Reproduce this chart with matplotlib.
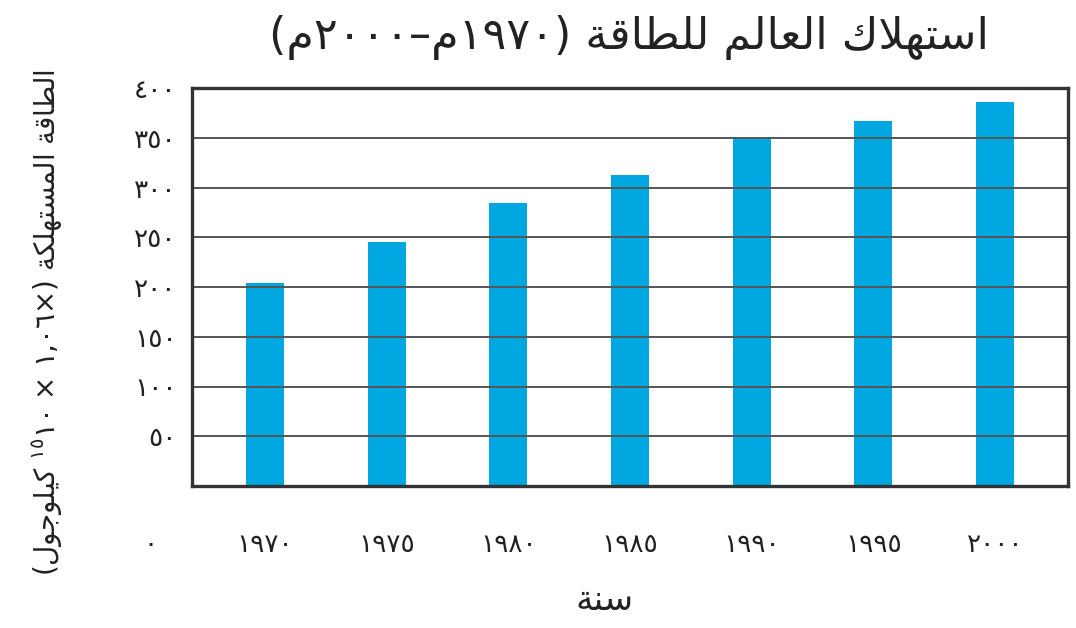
import re
import matplotlib
matplotlib.use("Agg")
import matplotlib.pyplot as plt

# ---------------- data ----------------
years = ["١٩٧٠", "١٩٧٥", "١٩٨٠", "١٩٨٥", "١٩٩٠", "١٩٩٥", "٢٠٠٠"]
energy = [204, 245, 284, 313, 351, 367, 386]
ytick_values = [50, 100, 150, 200, 250, 300, 350, 400]
ytick_labels = ["٥٠", "١٠٠", "١٥٠", "٢٠٠", "٢٥٠", "٣٠٠", "٣٥٠", "٤٠٠"]
zero_label = "٠"
title_text = "استهلاك العالم للطاقة (١٩٧٠م–٢٠٠٠م)"
xlabel_text = "سنة"
ylabel_before = "الطاقة المستهلكة (×١,٠٦ × ١٠"
ylabel_sup = "١٥"
ylabel_after = " كيلوجول)"

# ---------------- minimal Arabic shaping + bidi ----------------
# (isolated, final, initial, medial)
FORMS = {
    "\u0621": ("\uFE80", None, None, None),
    "\u0622": ("\uFE81", "\uFE82", None, None),
    "\u0623": ("\uFE83", "\uFE84", None, None),
    "\u0625": ("\uFE87", "\uFE88", None, None),
    "\u0627": ("\uFE8D", "\uFE8E", None, None),
    "\u0628": ("\uFE8F", "\uFE90", "\uFE91", "\uFE92"),
    "\u0629": ("\uFE93", "\uFE94", None, None),
    "\u062A": ("\uFE95", "\uFE96", "\uFE97", "\uFE98"),
    "\u062B": ("\uFE99", "\uFE9A", "\uFE9B", "\uFE9C"),
    "\u062C": ("\uFE9D", "\uFE9E", "\uFE9F", "\uFEA0"),
    "\u062D": ("\uFEA1", "\uFEA2", "\uFEA3", "\uFEA4"),
    "\u062E": ("\uFEA5", "\uFEA6", "\uFEA7", "\uFEA8"),
    "\u062F": ("\uFEA9", "\uFEAA", None, None),
    "\u0630": ("\uFEAB", "\uFEAC", None, None),
    "\u0631": ("\uFEAD", "\uFEAE", None, None),
    "\u0632": ("\uFEAF", "\uFEB0", None, None),
    "\u0633": ("\uFEB1", "\uFEB2", "\uFEB3", "\uFEB4"),
    "\u0634": ("\uFEB5", "\uFEB6", "\uFEB7", "\uFEB8"),
    "\u0635": ("\uFEB9", "\uFEBA", "\uFEBB", "\uFEBC"),
    "\u0636": ("\uFEBD", "\uFEBE", "\uFEBF", "\uFEC0"),
    "\u0637": ("\uFEC1", "\uFEC2", "\uFEC3", "\uFEC4"),
    "\u0638": ("\uFEC5", "\uFEC6", "\uFEC7", "\uFEC8"),
    "\u0639": ("\uFEC9", "\uFECA", "\uFECB", "\uFECC"),
    "\u063A": ("\uFECD", "\uFECE", "\uFECF", "\uFED0"),
    "\u0641": ("\uFED1", "\uFED2", "\uFED3", "\uFED4"),
    "\u0642": ("\uFED5", "\uFED6", "\uFED7", "\uFED8"),
    "\u0643": ("\uFED9", "\uFEDA", "\uFEDB", "\uFEDC"),
    "\u0644": ("\uFEDD", "\uFEDE", "\uFEDF", "\uFEE0"),
    "\u0645": ("\uFEE1", "\uFEE2", "\uFEE3", "\uFEE4"),
    "\u0646": ("\uFEE5", "\uFEE6", "\uFEE7", "\uFEE8"),
    "\u0647": ("\uFEE9", "\uFEEA", "\uFEEB", "\uFEEC"),
    "\u0648": ("\uFEED", "\uFEEE", None, None),
    "\u0649": ("\uFEEF", "\uFEF0", None, None),
    "\u064A": ("\uFEF1", "\uFEF2", "\uFEF3", "\uFEF4"),
}
LAM_ALEF = {"\u0622": ("\uFEF5", "\uFEF6"), "\u0623": ("\uFEF7", "\uFEF8"),
            "\u0625": ("\uFEF9", "\uFEFA"), "\u0627": ("\uFEFB", "\uFEFC")}
MIRROR = {"(": ")", ")": "(", "[": "]", "]": "[", "<": ">", ">": "<"}


def dual(c):
    return c in FORMS and FORMS[c][2] is not None


def shape(s):
    out = []
    i = 0
    n = len(s)
    while i < n:
        c = s[i]
        if c not in FORMS:
            out.append(c)
            i += 1
            continue
        prev_join = i > 0 and dual(s[i - 1])
        if c == "\u0644" and i + 1 < n and s[i + 1] in LAM_ALEF:
            iso, fin = LAM_ALEF[s[i + 1]]
            out.append(fin if prev_join else iso)
            i += 2
            continue
        next_join = dual(c) and i + 1 < n and s[i + 1] in FORMS
        iso, fin, ini, med = FORMS[c]
        if prev_join and next_join:
            out.append(med)
        elif prev_join:
            out.append(fin or iso)
        elif next_join:
            out.append(ini)
        else:
            out.append(iso)
        i += 1
    return "".join(out)


DIG = "0-9\u0660-\u0669"
TOKEN = re.compile(r"[%s](?:[%s,\u066B\u066C.]*[%s])?|." % (DIG, DIG, DIG), re.S)


def visual(s):
    toks = TOKEN.findall(shape(s))
    res = []
    for t in reversed(toks):
        if len(t) == 1:
            t = MIRROR.get(t, t)
        res.append(t)
    return "".join(res)


# ---------------- figure ----------------
plt.rcParams["font.family"] = ["DejaVu Sans"]
plt.rcParams["mathtext.fontset"] = "dejavusans"

fig = plt.figure(figsize=(10.76, 6.28), dpi=100)
ax = fig.add_axes([192 / 1076, 1 - 486 / 628, (1068 - 192) / 1076, (486 - 88) / 628])

x = list(range(len(years)))
ax.bar(x, energy, width=0.31, color="#00A7E1", zorder=1)

ax.set_xlim(-0.6, 6.6)
ax.set_ylim(0, 400)
ax.set_yticks(ytick_values)
ax.set_yticklabels(ytick_labels)
ax.set_xticks(x)
ax.set_xticklabels(years)
ax.tick_params(axis="both", length=0, labelsize=19, colors="#222222")
ax.tick_params(axis="y", pad=11)
ax.tick_params(axis="x", pad=33)
for lab in ax.get_yticklabels():
    lab.set_horizontalalignment("right")

ax.yaxis.grid(True, color="#555555", linewidth=1.4, zorder=2)
ax.set_axisbelow(False)
for sp in ax.spines.values():
    sp.set_color("#333333")
    sp.set_linewidth(2.4)
    sp.set_zorder(3)

# zero label placed on the x tick-label row, under the y tick labels
ax.annotate(zero_label, xy=(0, 0), xycoords="axes fraction",
            xytext=(-42, -59), textcoords="offset pixels",
            ha="center", va="center", fontsize=19, color="#222222")

fig.text(629 / 1076, 1 - 38 / 628, visual(title_text), ha="center", va="center",
         fontsize=32, color="#222222")
fig.text(605 / 1076, 1 - 600 / 628, visual(xlabel_text), ha="center", va="center",
         fontsize=25, color="#222222")

# y label: build visual order, superscript sits visually left of the base
ylab_visual = (visual(ylabel_after) + r"${}^{\mathrm{" + ylabel_sup + r"}}$"
               + visual(ylabel_before))
fig.text(48 / 1076, 1 - 323 / 628, ylab_visual, rotation=90, ha="center",
         va="center", fontsize=20, color="#222222")

fig.savefig("out.png", dpi=100)
